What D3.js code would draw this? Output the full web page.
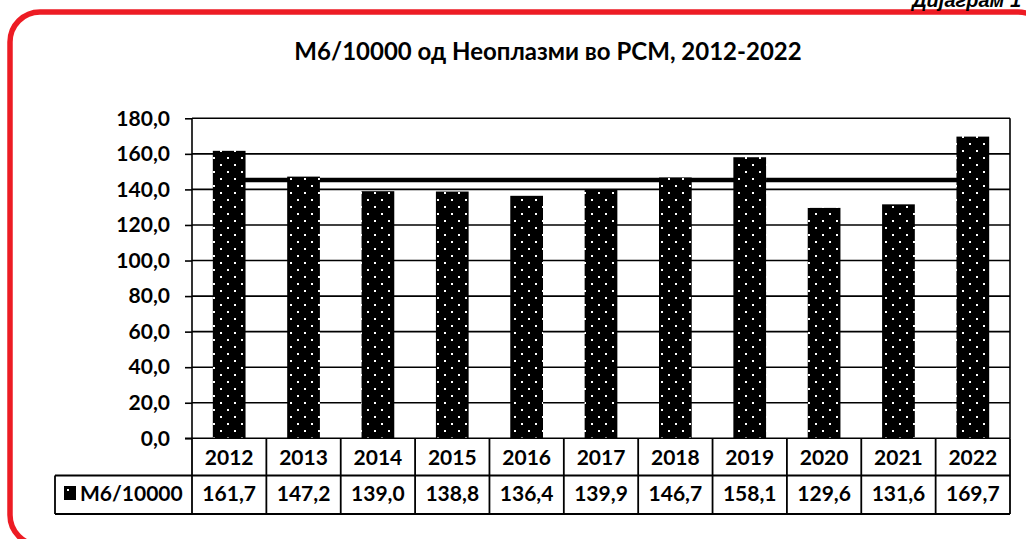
<!DOCTYPE html>
<html>
<head>
<meta charset="utf-8">
<script src="https://cdn.jsdelivr.net/npm/d3@7"></script>
<style>
  body { margin: 0; background: #fff; }
  text { font-family: Lato, "Open Sans", sans-serif; font-weight: 700; fill: #000; }
</style>
</head>
<body>
<svg id="chart" width="1026" height="539"></svg>
<script>
// data
const years = ["2012", "2013", "2014", "2015", "2016", "2017", "2018", "2019", "2020", "2021", "2022"];
const values = [161.7, 147.2, 139.0, 138.8, 136.4, 139.9, 146.7, 158.1, 129.6, 131.6, 169.7];
const yTicks = [0, 20, 40, 60, 80, 100, 120, 140, 160, 180];
const seriesName = "М6/10000";
const titleText = "М6/10000 од Неоплазми во РСМ, 2012-2022";
const captionText = "Дијаграм 1";

const svg = d3.select("#chart");
const fmt = v => d3.format(".1f")(v).replace(".", ",");

// dotted bar pattern
const defs = svg.append("defs");
const pat = defs.append("pattern").attr("id", "dots").attr("patternUnits", "userSpaceOnUse")
  .attr("width", 14).attr("height", 14);
pat.append("rect").attr("width", 14).attr("height", 14).attr("fill", "#000");
pat.append("rect").attr("x", 3).attr("y", 3).attr("width", 2).attr("height", 2).attr("fill", "#fff");
pat.append("rect").attr("x", 10).attr("y", 10).attr("width", 2).attr("height", 2).attr("fill", "#fff");

// red frame and caption (caption is partly cut by the top edge, as in the source)
svg.append("rect").attr("x", 10).attr("y", 12).attr("width", 1038).attr("height", 533).attr("rx", 30)
  .attr("fill", "none").attr("stroke", "#ED1C24").attr("stroke-width", 5.5);
svg.append("text").attr("x", 1021).attr("y", 7).attr("text-anchor", "end")
  .style("font-family", "'Liberation Sans', Arial, sans-serif").style("font-style", "italic")
  .style("font-size", "20px").text(captionText);

// title
svg.append("text").attr("x", 548).attr("y", 60).attr("text-anchor", "middle")
  .style("font-size", "24px").text(titleText);

// scales
const plotL = 192, plotR = 1010, plotT = 118.3, plotB = 438.3;
const x = d3.scaleBand().domain(years).range([plotL, plotR]);
const y = d3.scaleLinear().domain([0, 180]).range([plotB, plotT]);
const barW = x.bandwidth() * 0.44;

// gridlines
svg.append("g").selectAll("line").data(yTicks.filter(d => d > 0)).join("line")
  .attr("x1", plotL).attr("x2", plotR).attr("y1", d => y(d)).attr("y2", d => y(d))
  .attr("stroke", "#000").attr("stroke-width", 1.6);
svg.append("line").attr("x1", plotR).attr("x2", plotR).attr("y1", plotT).attr("y2", plotB)
  .attr("stroke", "#000").attr("stroke-width", 1.6);

// average line (behind bars)
const avg = d3.mean(values);
svg.append("line")
  .attr("x1", x(years[0]) + x.bandwidth() / 2).attr("x2", x(years[years.length - 1]) + x.bandwidth() / 2)
  .attr("y1", y(avg)).attr("y2", y(avg)).attr("stroke", "#000").attr("stroke-width", 4.5);

// bars
svg.append("g").selectAll("rect").data(values).join("rect")
  .attr("x", (d, i) => x(years[i]) + x.bandwidth() / 2 - barW / 2)
  .attr("y", d => y(d)).attr("width", barW).attr("height", d => plotB - y(d))
  .attr("fill", "url(#dots)");

// y axis
const yAxis = svg.append("g").attr("transform", `translate(${plotL},0)`)
  .call(d3.axisLeft(y).tickValues(yTicks).tickSize(7).tickPadding(15).tickFormat(fmt));
yAxis.select(".domain").attr("stroke", "#000").attr("stroke-width", 1.6).attr("d", `M0,${plotT}V${plotB}`);
yAxis.selectAll(".tick line").attr("stroke", "#000").attr("stroke-width", 1.6);
yAxis.selectAll(".tick text").style("font-size", "21px").style("font-family", "Lato, sans-serif")
  .attr("dy", "0.32em");

// x axis line
svg.append("line").attr("x1", plotL - 7).attr("x2", plotR).attr("y1", plotB).attr("y2", plotB)
  .attr("stroke", "#000").attr("stroke-width", 1.6);

// data table
const rowTop = plotB, rowMid = 475.5, rowBot = 514, legLeft = 55;
const tbl = svg.append("g").attr("stroke", "#000").attr("stroke-width", 1.8);
tbl.append("line").attr("x1", legLeft).attr("x2", plotR).attr("y1", rowMid).attr("y2", rowMid);
tbl.append("line").attr("x1", legLeft).attr("x2", plotR).attr("y1", rowBot).attr("y2", rowBot);
tbl.append("line").attr("x1", legLeft).attr("x2", legLeft).attr("y1", rowMid).attr("y2", rowBot);
tbl.selectAll(".col").data(years.concat(["end"])).join("line").attr("class", "col")
  .attr("x1", (d, i) => plotL + i * x.bandwidth()).attr("x2", (d, i) => plotL + i * x.bandwidth())
  .attr("y1", rowTop).attr("y2", rowBot);

svg.append("g").selectAll("text").data(years).join("text")
  .attr("x", d => x(d) + x.bandwidth() / 2).attr("y", 465).attr("text-anchor", "middle")
  .style("font-size", "21px").text(d => d);
svg.append("g").selectAll("text").data(values).join("text")
  .attr("x", (d, i) => x(years[i]) + x.bandwidth() / 2).attr("y", 501).attr("text-anchor", "middle")
  .style("font-size", "21px").text(fmt);

// legend key in table
svg.append("rect").attr("x", 64).attr("y", 486).attr("width", 12).attr("height", 14).attr("fill", "#000");
svg.append("rect").attr("x", 67).attr("y", 489).attr("width", 2).attr("height", 2).attr("fill", "#fff");
svg.append("text").attr("x", 80).attr("y", 501).style("font-size", "21px").text(seriesName);
</script>
</body>
</html>
